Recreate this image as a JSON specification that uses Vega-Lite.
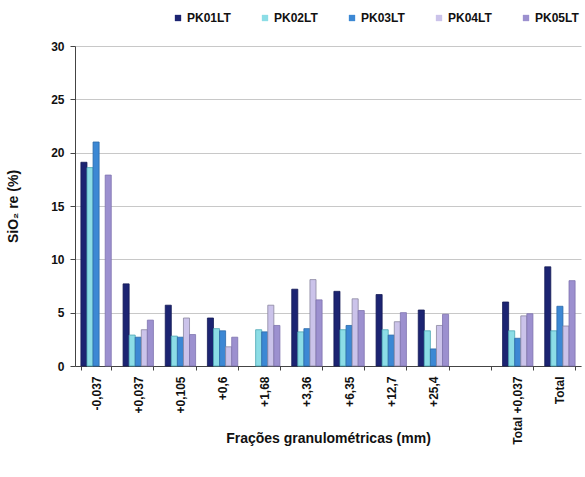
{
  "$schema": "https://vega.github.io/schema/vega-lite/v6.json",
  "width": 506,
  "height": 320,
  "autosize": "none",
  "padding": {"left": 75, "top": 46, "right": 4, "bottom": 111},
  "background": "white",
  "config": {
    "font": "Liberation Sans",
    "view": {"stroke": null}
  },
  "data": {
    "values": [
      {"cat": "-0,037", "s": "PK01LT", "v": 19.1},
      {"cat": "-0,037", "s": "PK02LT", "v": 18.6},
      {"cat": "-0,037", "s": "PK03LT", "v": 21.0},
      {"cat": "-0,037", "s": "PK05LT", "v": 17.9},
      {"cat": "+0,037", "s": "PK01LT", "v": 7.7},
      {"cat": "+0,037", "s": "PK02LT", "v": 2.9},
      {"cat": "+0,037", "s": "PK03LT", "v": 2.7},
      {"cat": "+0,037", "s": "PK04LT", "v": 3.4},
      {"cat": "+0,037", "s": "PK05LT", "v": 4.3},
      {"cat": "+0,105", "s": "PK01LT", "v": 5.7},
      {"cat": "+0,105", "s": "PK02LT", "v": 2.8},
      {"cat": "+0,105", "s": "PK03LT", "v": 2.7},
      {"cat": "+0,105", "s": "PK04LT", "v": 4.5},
      {"cat": "+0,105", "s": "PK05LT", "v": 2.95},
      {"cat": "+0,6", "s": "PK01LT", "v": 4.5},
      {"cat": "+0,6", "s": "PK02LT", "v": 3.5},
      {"cat": "+0,6", "s": "PK03LT", "v": 3.3},
      {"cat": "+0,6", "s": "PK04LT", "v": 1.8},
      {"cat": "+0,6", "s": "PK05LT", "v": 2.7},
      {"cat": "+1,68", "s": "PK02LT", "v": 3.4},
      {"cat": "+1,68", "s": "PK03LT", "v": 3.2},
      {"cat": "+1,68", "s": "PK04LT", "v": 5.7},
      {"cat": "+1,68", "s": "PK05LT", "v": 3.8},
      {"cat": "+3,36", "s": "PK01LT", "v": 7.2},
      {"cat": "+3,36", "s": "PK02LT", "v": 3.2},
      {"cat": "+3,36", "s": "PK03LT", "v": 3.5},
      {"cat": "+3,36", "s": "PK04LT", "v": 8.1},
      {"cat": "+3,36", "s": "PK05LT", "v": 6.2},
      {"cat": "+6,35", "s": "PK01LT", "v": 7.0},
      {"cat": "+6,35", "s": "PK02LT", "v": 3.4},
      {"cat": "+6,35", "s": "PK03LT", "v": 3.8},
      {"cat": "+6,35", "s": "PK04LT", "v": 6.3},
      {"cat": "+6,35", "s": "PK05LT", "v": 5.2},
      {"cat": "+12,7", "s": "PK01LT", "v": 6.7},
      {"cat": "+12,7", "s": "PK02LT", "v": 3.4},
      {"cat": "+12,7", "s": "PK03LT", "v": 2.9},
      {"cat": "+12,7", "s": "PK04LT", "v": 4.15},
      {"cat": "+12,7", "s": "PK05LT", "v": 5.0},
      {"cat": "+25,4", "s": "PK01LT", "v": 5.25},
      {"cat": "+25,4", "s": "PK02LT", "v": 3.3},
      {"cat": "+25,4", "s": "PK03LT", "v": 1.6},
      {"cat": "+25,4", "s": "PK04LT", "v": 3.8},
      {"cat": "+25,4", "s": "PK05LT", "v": 4.85},
      {"cat": "Total +0,037", "s": "PK01LT", "v": 6.0},
      {"cat": "Total +0,037", "s": "PK02LT", "v": 3.3},
      {"cat": "Total +0,037", "s": "PK03LT", "v": 2.6},
      {"cat": "Total +0,037", "s": "PK04LT", "v": 4.7},
      {"cat": "Total +0,037", "s": "PK05LT", "v": 4.9},
      {"cat": "Total", "s": "PK01LT", "v": 9.3},
      {"cat": "Total", "s": "PK02LT", "v": 3.3},
      {"cat": "Total", "s": "PK03LT", "v": 5.6},
      {"cat": "Total", "s": "PK04LT", "v": 3.75},
      {"cat": "Total", "s": "PK05LT", "v": 8.0}
    ]
  },
  "mark": {"type": "bar", "strokeWidth": 0.8},
  "encoding": {
    "x": {
      "field": "cat",
      "type": "nominal",
      "scale": {
        "domain": ["-0,037", "+0,037", "+0,105", "+0,6", "+1,68", "+3,36", "+6,35", "+12,7", "+25,4", "gap", "Total +0,037", "Total"],
        "paddingInner": 0.28,
        "paddingOuter": 0.14
      },
      "axis": {
        "title": "Frações granulométricas (mm)",
        "titleFont": "Liberation Sans",
        "titleFontSize": 14,
        "titleFontWeight": "bold",
        "titleColor": "#111",
        "titleY": 76,
        "titleBaseline": "alphabetic",
        "labelAngle": -90,
        "labelAlign": "right",
        "labelBaseline": "middle",
        "labelFontSize": 12,
        "labelFontWeight": "bold",
        "labelColor": "#111",
        "labelPadding": 6,
        "labelExpr": "datum.value == 'gap' ? '' : datum.label",
        "tickBand": "extent",
        "tickSize": 4,
        "tickColor": "#444",
        "domainColor": "#444",
        "grid": false
      }
    },
    "xOffset": {
      "field": "s",
      "type": "nominal",
      "scale": {"domain": ["PK01LT", "PK02LT", "PK03LT", "PK04LT", "PK05LT"], "paddingInner": 0, "paddingOuter": 0}
    },
    "y": {
      "field": "v",
      "type": "quantitative",
      "scale": {"domain": [0, 30], "nice": false},
      "axis": {
        "title": "SiO₂ re (%)",
        "titleFontSize": 14,
        "titleFontWeight": "bold",
        "titleColor": "#111",
        "titleX": -55,
        "values": [0, 5, 10, 15, 20, 25, 30],
        "labelFontSize": 12,
        "labelFontWeight": "bold",
        "labelColor": "#111",
        "labelPadding": 6,
        "tickSize": 5,
        "tickColor": "#444",
        "domainColor": "#444",
        "gridColor": "#c8c8c8",
        "gridWidth": 1
      }
    },
    "fill": {
      "field": "s",
      "type": "nominal",
      "scale": {
        "domain": ["PK01LT", "PK02LT", "PK03LT", "PK04LT", "PK05LT"],
        "range": ["#1c2472", "#8cdde6", "#3c88d4", "#cbc3ea", "#9c90cf"]
      },
      "legend": {
        "orient": "none",
        "legendX": 97,
        "legendY": -34,
        "direction": "horizontal",
        "title": null,
        "symbolType": "square",
        "symbolSize": 40,
        "symbolStrokeWidth": 0,
        "labelFontSize": 12,
        "labelFontWeight": "bold",
        "labelColor": "#111",
        "labelOffset": 3,
        "columnPadding": 28
      }
    },
    "stroke": {
      "field": "s",
      "type": "nominal",
      "scale": {
        "domain": ["PK01LT", "PK02LT", "PK03LT", "PK04LT", "PK05LT"],
        "range": ["#141a55", "#4aa6b4", "#2c6aa8", "#8a86a0", "#7f74b0"]
      },
      "legend": null
    }
  }
}
